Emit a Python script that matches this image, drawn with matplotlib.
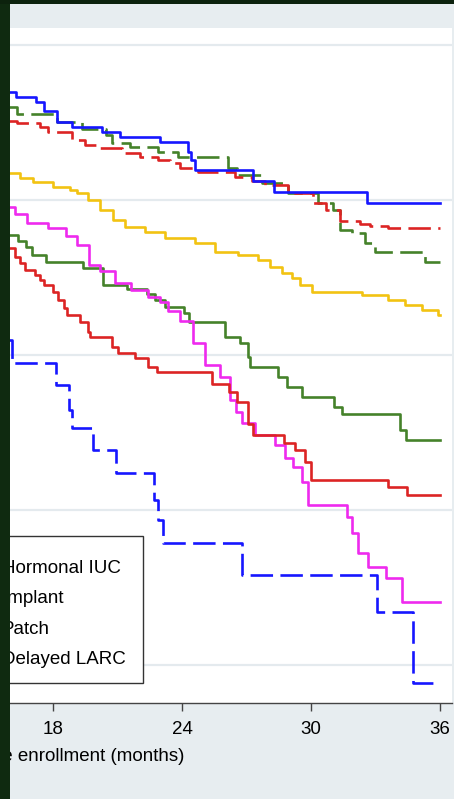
import matplotlib
matplotlib.use("Agg")
import matplotlib.pyplot as plt
from matplotlib.patches import Rectangle

plt.rcParams['font.family'] = ['Liberation Sans', 'DejaVu Sans']

# Kaplan-Meier style step curves (months since enrollment, proportion)
t_hiuc = [15.9, 16.3, 17.2, 17.6, 18.2, 18.9, 20.3, 21.1, 23.0, 24.3, 24.4, 24.6, 27.3, 28.3, 32.6, 36.0]
s_hiuc = [0.939, 0.933, 0.926, 0.915, 0.901, 0.894, 0.888, 0.881, 0.875, 0.862, 0.852, 0.839, 0.825, 0.810, 0.796, 0.796]

t_implant = [15.9, 16.33, 17.40, 17.77, 18.88, 19.49, 20.0, 21.21, 22.05, 22.88, 23.44, 23.91,
             24.74, 26.47, 27.26, 27.86, 28.93, 30.09, 30.70, 31.35, 32.28, 32.74, 33.58, 36.0]
s_implant = [0.902, 0.899, 0.894, 0.888, 0.877, 0.871, 0.867, 0.861, 0.855, 0.852, 0.848, 0.841,
             0.836, 0.830, 0.825, 0.819, 0.809, 0.796, 0.787, 0.773, 0.769, 0.766, 0.764, 0.764]

t_copper = [15.9, 16.33, 18.19, 19.35, 20.47, 20.74, 21.58, 22.88, 23.81, 26.14, 26.56, 27.72,
            28.93, 30.33, 31.02, 31.35, 31.91, 32.51, 32.98, 35.30, 36.0]
s_copper = [0.920, 0.911, 0.901, 0.892, 0.884, 0.874, 0.868, 0.862, 0.855, 0.841, 0.832, 0.822,
            0.809, 0.796, 0.787, 0.761, 0.757, 0.745, 0.733, 0.720, 0.720]

t_dmpa = [15.9, 16.47, 17.07, 18.0, 18.79, 19.12, 19.63, 20.19, 20.79, 21.35, 22.28, 23.21, 24.6,
          25.53, 26.6, 27.53, 28.09, 28.65, 29.12, 29.49, 30.05, 32.37, 33.58, 34.37, 35.16, 35.91, 36.0]
s_dmpa = [0.835, 0.828, 0.823, 0.817, 0.813, 0.809, 0.800, 0.787, 0.774, 0.765, 0.759, 0.751, 0.745,
          0.733, 0.729, 0.723, 0.714, 0.706, 0.699, 0.690, 0.681, 0.677, 0.671, 0.665, 0.658, 0.652, 0.652]

t_patch = [15.9, 16.23, 16.79, 17.77, 18.6, 19.12, 19.67, 20.19, 20.88, 21.63, 22.42, 22.98, 23.35,
           23.91, 24.51, 25.07, 25.77, 26.23, 26.51, 26.79, 27.4, 28.33, 28.79, 29.16, 29.58, 29.86,
           31.67, 31.91, 32.19, 32.65, 33.49, 34.23, 36.0]
s_patch = [0.791, 0.782, 0.770, 0.764, 0.754, 0.742, 0.716, 0.708, 0.693, 0.684, 0.675, 0.668, 0.657,
           0.644, 0.615, 0.587, 0.572, 0.542, 0.526, 0.512, 0.497, 0.484, 0.467, 0.455, 0.436, 0.406,
           0.391, 0.370, 0.345, 0.326, 0.312, 0.281, 0.281]

t_ring = [15.9, 16.37, 16.74, 17.02, 17.67, 19.4, 20.33, 21.44, 22.37, 22.74, 23.21, 24.09, 24.33,
          26.0, 26.7, 27.07, 27.16, 28.47, 28.88, 29.58, 31.07, 31.44, 34.14, 34.42, 36.0]
s_ring = [0.755, 0.747, 0.739, 0.729, 0.720, 0.712, 0.690, 0.685, 0.679, 0.671, 0.662, 0.654, 0.643,
          0.623, 0.615, 0.597, 0.585, 0.572, 0.559, 0.546, 0.533, 0.524, 0.503, 0.490, 0.490]

t_pill = [15.9, 16.23, 16.47, 16.7, 17.16, 17.4, 17.58, 18.0, 18.23, 18.51, 18.65, 19.26, 19.63,
          19.72, 20.74, 21.02, 21.81, 22.42, 22.84, 25.4, 26.19, 26.56, 27.07, 27.3, 28.74, 29.26,
          29.72, 30.0, 33.58, 34.47, 36.0]
s_pill = [0.738, 0.726, 0.719, 0.710, 0.703, 0.697, 0.690, 0.681, 0.671, 0.661, 0.652, 0.643, 0.630,
          0.623, 0.610, 0.603, 0.596, 0.585, 0.578, 0.563, 0.552, 0.539, 0.511, 0.497, 0.486, 0.477,
          0.462, 0.439, 0.430, 0.419, 0.419]

t_delayed = [15.9, 16.09, 18.14, 18.74, 18.88, 19.86, 20.93, 22.7, 22.88, 23.12, 26.79, 33.07, 34.74, 36.0]
s_delayed = [0.619, 0.590, 0.561, 0.529, 0.506, 0.477, 0.448, 0.413, 0.387, 0.357, 0.316, 0.268, 0.177, 0.177]

x_ticks = [0, 6, 12, 18, 24, 30, 36]
y_grid = [0.2, 0.4, 0.6, 0.8, 1.0]

BLUE = '#1616ff'
RED = '#dc2424'
GREEN = '#45822a'
GOLD = '#f2c312'
MAGENTA = '#ee2aee'
dash = (0, (8.5, 2.8))

fig = plt.figure(figsize=(4.54, 7.99), dpi=100, facecolor='#e7edf0')
# the plot region runs off the left edge of the picture (cropped figure)
ax = fig.add_axes([-0.7577, 0.1202, 1.7533, 0.8448])
ax.set_facecolor('white')

for y in y_grid:
    ax.axhline(y, color='#e4eaee', lw=1.6, zorder=0)

lw = 1.9
h_copper, = ax.step(t_copper, s_copper, where='post', color=GREEN, lw=lw, ls=dash)
h_implant, = ax.step(t_implant, s_implant, where='post', color=RED, lw=lw, ls=dash)
h_hiuc, = ax.step(t_hiuc, s_hiuc, where='post', color=BLUE, lw=lw)
h_dmpa, = ax.step(t_dmpa, s_dmpa, where='post', color=GOLD, lw=lw)
h_ring, = ax.step(t_ring, s_ring, where='post', color=GREEN, lw=lw)
h_patch, = ax.step(t_patch, s_patch, where='post', color=MAGENTA, lw=lw)
h_pill, = ax.step(t_pill, s_pill, where='post', color=RED, lw=lw)
h_delayed, = ax.step(t_delayed, s_delayed, where='post', color=BLUE, lw=lw, ls=dash)

ax.set_xlim(-0.465, 36.56)
ax.set_ylim(0.151, 1.022)
ax.set_xticks(x_ticks)
ax.set_yticks([])
ax.tick_params(axis='x', length=6, width=1, color='#444444', pad=7, labelsize=13.5)
for side in ['top', 'right', 'left']:
    ax.spines[side].set_visible(False)
ax.spines['bottom'].set_color('#444444')
ax.spines['bottom'].set_linewidth(1)
ax.set_xlabel('Time since enrollment (months)', fontsize=13.5, labelpad=7)

# legend box (drawn separately so the entries can sit where the original has them)
ax.add_patch(Rectangle((0.181, 0.0296), 0.6118 - 0.181, 0.2474 - 0.0296, transform=ax.transAxes,
                       facecolor='white', edgecolor='#333333', lw=1, zorder=4))

handles = [h_copper, h_dmpa, h_pill, h_ring, h_hiuc, h_implant, h_patch, h_delayed]
labels = ['Copper IUC', 'DMPA', 'Pill', 'Ring',
          'Hormonal IUC', 'Implant', 'Patch', 'Delayed LARC']
leg = ax.legend(handles, labels, ncol=2, loc='lower right', bbox_to_anchor=(0.6018, 0.0373),
                fontsize=13.5, frameon=False, borderpad=0.5, labelspacing=0.72,
                handlelength=3.2, columnspacing=1.5, handletextpad=0.6, borderaxespad=0)
leg.set_zorder(5)

# dark border strips of the cropped screenshot
fig.add_artist(Rectangle((0, 0), 10 / 454, 1, transform=fig.transFigure,
                         facecolor='#0f2a10', edgecolor='none', zorder=5))
fig.add_artist(Rectangle((0, 1 - 4 / 799), 1, 4 / 799, transform=fig.transFigure,
                         facecolor='#0c220d', edgecolor='none', zorder=5))

fig.savefig('out.png', dpi=100, facecolor=fig.get_facecolor())
